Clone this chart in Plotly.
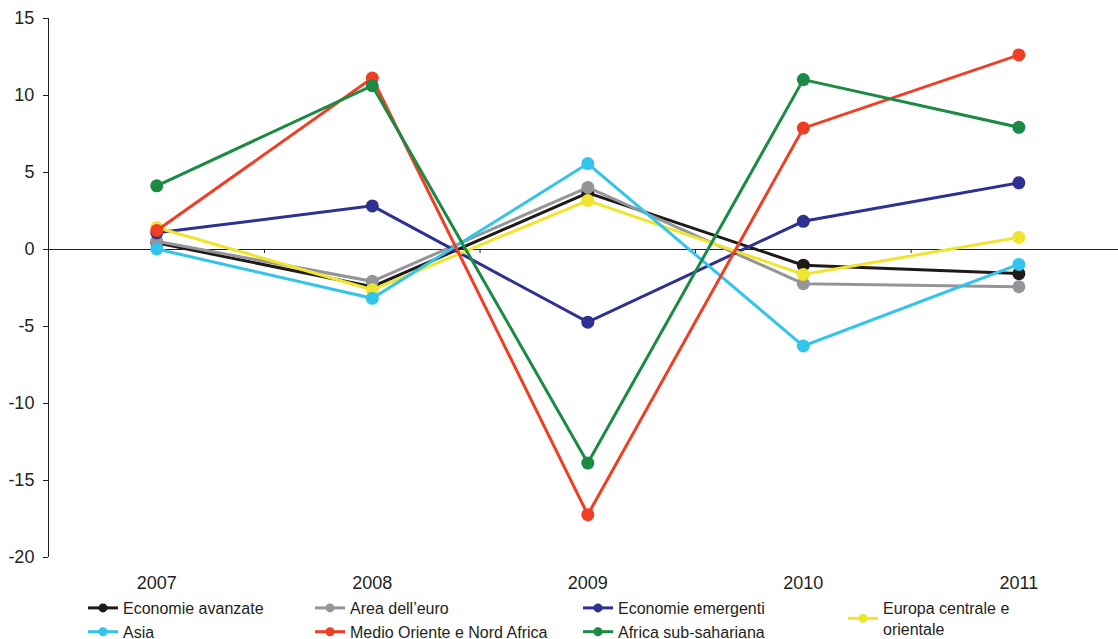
import plotly.graph_objects as go

years = ["2007", "2008", "2009", "2010", "2011"]

economie_avanzate = [0.4, -2.45, 3.65, -1.05, -1.6]
area_euro = [0.5, -2.1, 4.0, -2.25, -2.45]
economie_emergenti = [1.05, 2.8, -4.75, 1.8, 4.3]
europa_centrale = [1.4, -2.65, 3.15, -1.65, 0.75]
asia = [0.0, -3.2, 5.55, -6.3, -1.0]
medio_oriente = [1.2, 11.1, -17.25, 7.85, 12.6]
africa_sub = [4.1, 10.6, -13.9, 11.0, 7.9]

y_ticks = [-20, -15, -10, -5, 0, 5, 10, 15]
y_ticktext = ["-20", "-15", "-10", "-5", "0", "5", "10", "15"]

series = [
    ("Economie avanzate", economie_avanzate, "#1f1a17", "legend"),
    ("Area dell’euro", area_euro, "#939598", "legend2"),
    ("Economie emergenti", economie_emergenti, "#2e3192", "legend3"),
    ("Europa centrale e<br>orientale", europa_centrale, "#f0e52e", "legend4"),
    ("Asia", asia, "#33c4ee", "legend"),
    ("Medio Oriente e Nord Africa", medio_oriente, "#ef3e24", "legend2"),
    ("Africa sub-sahariana", africa_sub, "#1b8a44", "legend3"),
]

xpos = list(range(len(years)))

fig = go.Figure()
for name, vals, color, leg in series:
    fig.add_trace(go.Scatter(
        x=xpos, y=vals, name=name, mode="lines+markers",
        line=dict(color=color, width=3),
        marker=dict(color=color, size=13),
        showlegend=False, hoverinfo="x+y+name",
    ))
    # legend entry with a smaller marker
    fig.add_trace(go.Scatter(
        x=[None], y=[None], name=name, mode="lines+markers",
        line=dict(color=color, width=3),
        marker=dict(color=color, size=9),
        legend=leg, showlegend=True,
    ))

# small tick marks on the zero line between the years
for b in [0.5, 1.5, 2.5, 3.5]:
    fig.add_shape(type="line", xref="x", yref="y", x0=b, x1=b,
                  ysizemode="pixel", yanchor=0, y0=0, y1=-4,
                  line=dict(color="#231f20", width=1))

font = "Liberation Sans, Arial, sans-serif"
xr = [-0.5, 4.46]
yr = [-20, 15]

leg_common = dict(
    xref="container", yref="container", xanchor="left", yanchor="top",
    orientation="v", bgcolor="rgba(0,0,0,0)", borderwidth=0,
    font=dict(family=font, size=16, color="#231f20"),
    tracegroupgap=0,
)
leg_top = 1 - 591 / 639
col_x = [83, 310, 578, 843]

fig.update_layout(
    width=1118, height=639,
    margin=dict(l=49, r=0, t=18, b=82, autoexpand=False),
    plot_bgcolor="white", paper_bgcolor="white",
    font=dict(family=font, size=18, color="#231f20"),
    showlegend=True,
    legend=dict(x=col_x[0] / 1118, y=leg_top, **leg_common),
    legend2=dict(x=col_x[1] / 1118, y=leg_top, **leg_common),
    legend3=dict(x=col_x[2] / 1118, y=leg_top, **leg_common),
    legend4=dict(x=col_x[3] / 1118, y=leg_top, **leg_common),
    xaxis=dict(
        range=xr, tickmode="array", tickvals=xpos, ticktext=years,
        showgrid=False, showline=False, zeroline=False, ticks="",
        tickfont=dict(size=18), automargin=False, ticklabelstandoff=13,
    ),
    yaxis=dict(
        range=yr, tickmode="array", tickvals=y_ticks, ticktext=y_ticktext,
        showgrid=False,
        showline=True, linecolor="#231f20", linewidth=1,
        ticks="outside", ticklen=5, tickcolor="#231f20",
        zeroline=True, zerolinecolor="#231f20", zerolinewidth=1,
        tickfont=dict(size=18), automargin=False, ticklabelstandoff=5,
    ),
)

fig.write_html("out.html")
